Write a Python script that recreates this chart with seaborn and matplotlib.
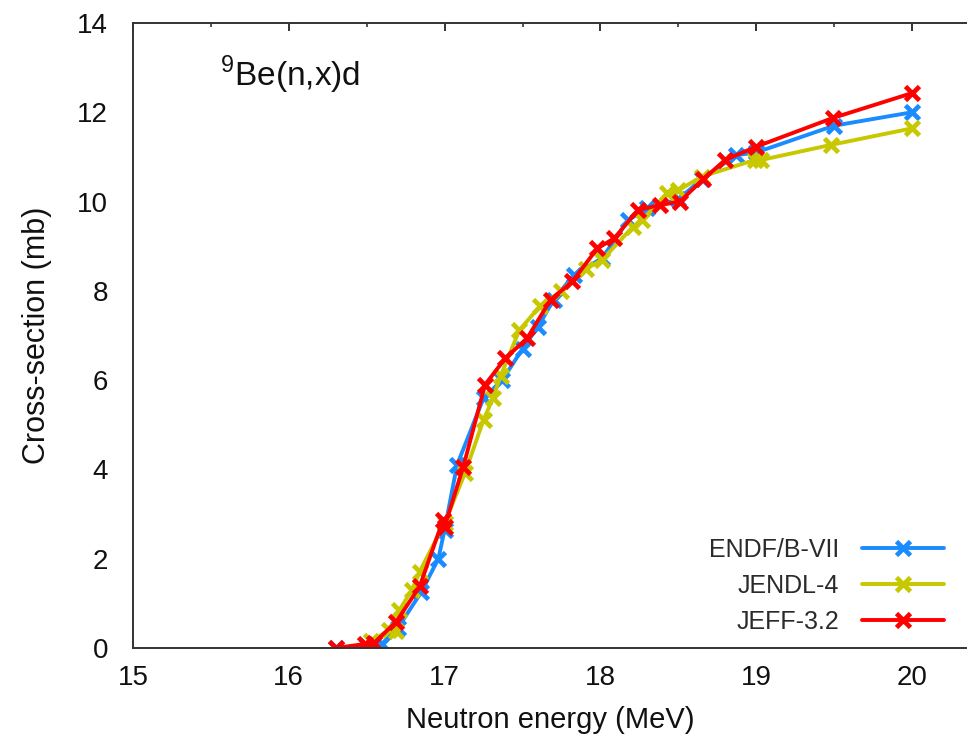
import matplotlib
matplotlib.use("Agg")
import matplotlib.pyplot as plt
import seaborn as sns
import pandas as pd
from matplotlib.ticker import MultipleLocator

# ---- data ----
endf_x = [16.30, 16.50, 16.60, 16.70, 16.85, 16.96, 17.00, 17.08, 17.25, 17.37, 17.50,
          17.60, 17.70, 17.83, 18.01, 18.18, 18.30, 18.50, 18.65, 18.87, 19.00, 19.50, 20.00]
endf_y = [0.00, 0.05, 0.10, 0.45, 1.25, 2.00, 2.65, 4.10, 5.60, 6.00, 6.70,
          7.20, 7.80, 8.36, 8.73, 9.59, 9.85, 10.05, 10.50, 11.04, 11.10, 11.70, 12.00]

jendl_x = [16.53, 16.64, 16.69, 16.71, 16.79, 16.84, 17.00, 17.13, 17.25, 17.31, 17.36,
           17.48, 17.61, 17.75, 17.91, 18.01, 18.21, 18.27, 18.43, 18.50, 18.65, 18.99,
           19.03, 19.48, 20.00]
jendl_y = [0.15, 0.40, 0.37, 0.85, 1.30, 1.71, 2.80, 3.91, 5.11, 5.59, 6.10,
           7.12, 7.65, 8.00, 8.50, 8.69, 9.44, 9.59, 10.19, 10.25, 10.56, 10.93,
           10.93, 11.27, 11.64]

jeff_x = [16.30, 16.49, 16.55, 16.69, 16.84, 16.99, 17.00, 17.12, 17.26, 17.39, 17.53,
          17.68, 17.82, 17.98, 18.09, 18.24, 18.38, 18.51, 18.66, 18.80, 19.00, 19.49, 20.00]
jeff_y = [0.00, 0.09, 0.12, 0.59, 1.38, 2.87, 2.72, 4.06, 5.90, 6.49, 6.94,
          7.80, 8.21, 8.95, 9.18, 9.81, 9.92, 10.00, 10.50, 10.93, 11.23, 11.87, 12.43]

labels = ["ENDF/B-VII", "JENDL-4", "JEFF-3.2"]
colors = ["#1a8cff", "#c8c800", "#ff0000"]
xticks = [15, 16, 17, 18, 19, 20]
yticks = [0, 2, 4, 6, 8, 10, 12, 14]

sns.set_theme(style="white")
plt.rcParams["font.family"] = ["Liberation Sans", "DejaVu Sans"]
plt.rcParams["mathtext.fontset"] = "custom"
plt.rcParams["mathtext.rm"] = "Liberation Sans"

fig = plt.figure(figsize=(9.67, 7.47), dpi=100)
ax = fig.add_axes([133/967, 1 - 648/747, 1 - 133/967, (648 - 23)/747])

series = [(endf_x, endf_y), (jendl_x, jendl_y), (jeff_x, jeff_y)]
for (xs, ys), lab, col in zip(series, labels, colors):
    df = pd.DataFrame({"E": xs, "xs": ys})
    sns.lineplot(data=df, x="E", y="xs", ax=ax, color=col, sort=False,
                 linewidth=2.8, marker="x", markersize=10, markeredgewidth=3.4,
                 markeredgecolor=col, label=lab, estimator=None)

ax.set_xlim(15, 15 + (967 - 133) / 155.8)
ax.set_ylim(0, 14)
ax.set_xticks(xticks)
ax.set_yticks(yticks)
ax.xaxis.set_minor_locator(MultipleLocator(0.5))
ax.yaxis.set_minor_locator(MultipleLocator(1))
ax.tick_params(axis="both", which="both", direction="in", top=True, right=False,
               color="#333333", width=1.2)
ax.tick_params(axis="both", which="major", length=6, labelsize=20, colors="#111111")
ax.tick_params(axis="both", which="minor", length=3)
ax.tick_params(axis="x", which="major", pad=12)
ax.tick_params(axis="y", which="major", pad=18)

for s in ["left", "bottom", "top"]:
    ax.spines[s].set_visible(True)
    ax.spines[s].set_color("#333333")
    ax.spines[s].set_linewidth(1.4)
ax.spines["right"].set_visible(False)

ax.set_xlabel("Neutron energy (MeV)", fontsize=21, color="#111111", labelpad=11)
ax.set_ylabel("Cross-section (mb)", fontsize=22, color="#111111", labelpad=18)

ax.text(15.56, 12.58, r"$^{9}$Be(n,x)d", fontsize=24, color="#111111")

leg = ax.legend(loc="lower right", bbox_to_anchor=(944/967, 1 - 634/747),
                bbox_transform=fig.transFigure, frameon=False,
                markerfirst=False, fontsize=18, handlelength=3.3, handletextpad=0.9,
                labelspacing=0.48, borderpad=0, borderaxespad=0)
for t in leg.get_texts():
    t.set_color("#2a2a2a")

fig.savefig("out.png", dpi=100)
